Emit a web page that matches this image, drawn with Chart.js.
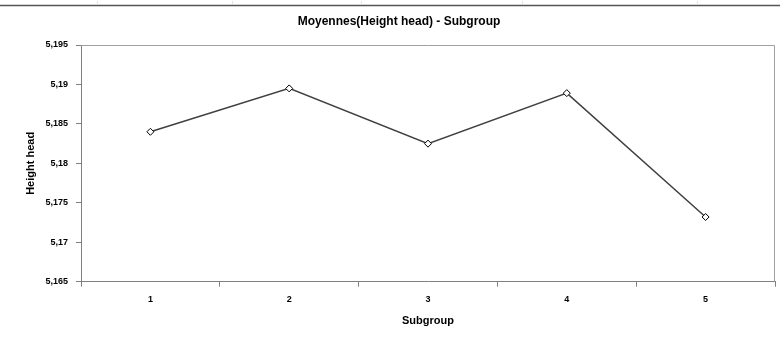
<!DOCTYPE html>
<html>
<head>
<meta charset="utf-8">
<title>Moyennes(Height head) - Subgroup</title>
<style>
  html, body { margin: 0; padding: 0; background: #fff; }
  #wrap { width: 780px; height: 341px; position: relative; }
</style>
</head>
<body>
<div id="wrap"><canvas id="chart"></canvas></div>
<script src="https://cdn.jsdelivr.net/npm/chart.js"></script>
<script>
const subgroups = ['1', '2', '3', '4', '5'];
const heightMeans = [5.1840, 5.1895, 5.1825, 5.1889, 5.1732];
const yMin = 5.165;
const yMax = 5.195;
const yStep = 0.005;

const FONT = 'Liberation Sans, Arial, sans-serif';

// format like the spreadsheet: comma decimal, no trailing zeros
const fmt = v => String(parseFloat(v.toFixed(3))).replace('.', ',');

// thin gray frame on top/right of the plot + the header rule
const framePlugin = {
  id: 'frame',
  beforeDraw(chart) {
    const c = chart.ctx;
    c.save();
    c.strokeStyle = '#555';
    c.lineWidth = 1.5;
    c.beginPath();
    c.moveTo(0, 5.5);
    c.lineTo(chart.width, 5.5);
    c.stroke();
    c.strokeStyle = '#e4e4e4';
    c.lineWidth = 1;
    [97, 232, 361, 522, 697].forEach(x => {
      c.beginPath();
      c.moveTo(x + 0.5, 1);
      c.lineTo(x + 0.5, 4);
      c.stroke();
    });
    c.restore();
  },
  afterDraw(chart) {
    const a = chart.chartArea, c = chart.ctx;
    c.save();
    c.strokeStyle = '#a0a0a0';
    c.lineWidth = 1;
    c.beginPath();
    c.moveTo(a.left, a.top + 0.5);
    c.lineTo(a.right - 0.5, a.top + 0.5);
    c.lineTo(a.right - 0.5, a.bottom);
    c.stroke();
    c.restore();
  }
};

new Chart(document.getElementById('chart'), {
  type: 'line',
  data: {
    labels: subgroups,
    datasets: [{
      data: heightMeans,
      borderColor: '#404040',
      borderWidth: 1.5,
      pointStyle: 'rectRot',
      pointRadius: 3.5,
      pointBackgroundColor: '#fff',
      pointBorderColor: '#000',
      pointBorderWidth: 1,
      tension: 0
    }]
  },
  options: {
    responsive: true,
    maintainAspectRatio: false,
    animation: false,
    layout: { padding: { left: 20, right: 2, top: 0, bottom: 0 } },
    plugins: {
      legend: { display: false },
      tooltip: { enabled: false },
      title: {
        display: true,
        text: 'Moyennes(Height head) - Subgroup',
        color: '#000',
        font: { family: FONT, size: 12, weight: 'bold' },
        padding: { top: 14.5, bottom: 16.1 }
      }
    },
    scales: {
      x: {
        offset: true,
        grid: { offset: true, drawOnChartArea: false, tickLength: 5, color: '#808080' },
        border: { color: '#808080', width: 1 },
        ticks: { color: '#000', padding: 7, font: { family: FONT, size: 9, weight: 'bold' } },
        title: {
          display: true, text: 'Subgroup', color: '#000',
          font: { family: FONT, size: 11, weight: 'bold' },
          padding: { top: 0, bottom: 13 }
        },
        afterFit(s) { s.height = 59.3; }
      },
      y: {
        min: yMin,
        max: yMax,
        grid: { drawOnChartArea: false, tickLength: 5, color: '#808080' },
        border: { color: '#808080', width: 1 },
        ticks: {
          stepSize: yStep, color: '#000', padding: 8,
          font: { family: FONT, size: 9, weight: 'bold' },
          callback: v => fmt(v)
        },
        title: {
          display: true, text: 'Height head', color: '#000',
          font: { family: FONT, size: 11, weight: 'bold' },
          padding: { top: 4, bottom: 0 }
        },
        afterFit(s) { s.width = 61; }
      }
    }
  },
  plugins: [framePlugin]
});
</script>
</body>
</html>
